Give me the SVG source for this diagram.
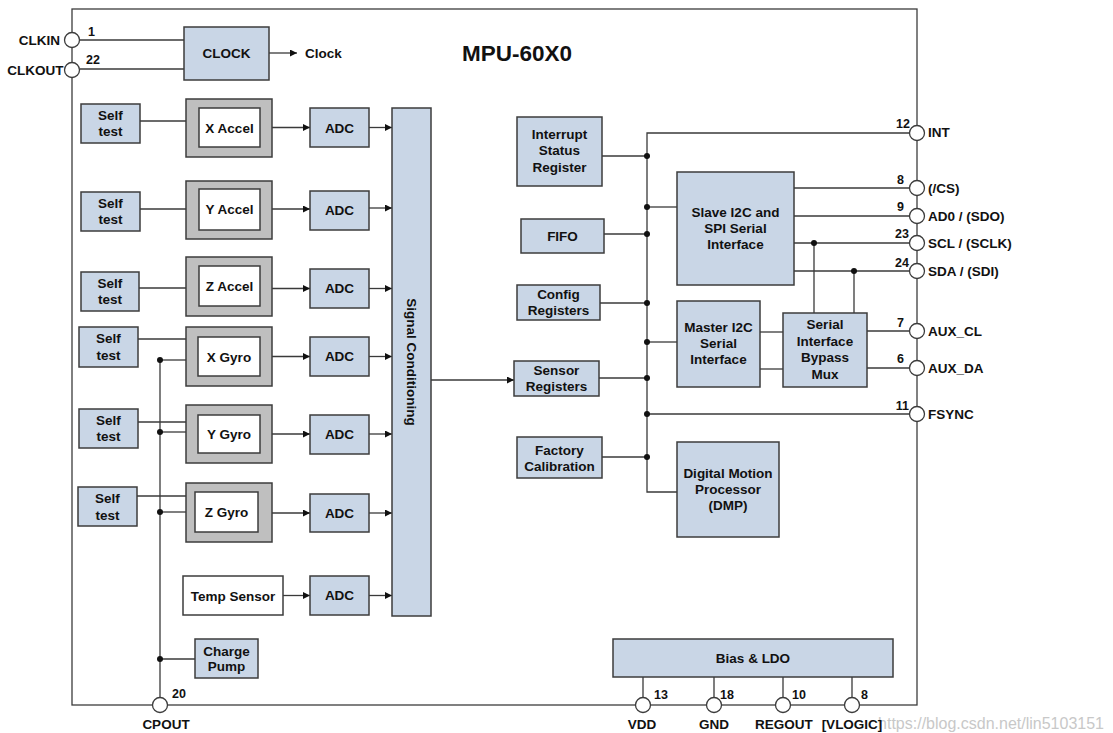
<svg xmlns="http://www.w3.org/2000/svg" width="1113" height="733" viewBox="0 0 1113 733">
<style>
text{font-family:"Liberation Sans",Arial,sans-serif;font-weight:bold;font-size:13.5px;fill:#111;text-anchor:middle}
.b{fill:#c9d6e6;stroke:#3c3c3c;stroke-width:1.5}
.w{fill:#fff;stroke:#3c3c3c;stroke-width:1.5}
.g{fill:#bfbfbf;stroke:#3c3c3c;stroke-width:1.5}
.pin{fill:#fff;stroke:#3c3c3c;stroke-width:1.3}
.c line,.c polyline{stroke:#3a3a3a;stroke-width:1.3;fill:none}
.a{marker-end:url(#arr)}
.dot{fill:#111}
.n{font-size:12.5px}
.l{text-anchor:start}
.r{text-anchor:end}
.wm{font-weight:normal;font-size:16px;fill:#c8c8c8;text-anchor:end}
</style>
<defs>
<marker id="arr" viewBox="0 0 10 10" refX="10" refY="5" markerWidth="9" markerHeight="7" markerUnits="userSpaceOnUse" orient="auto">
<path d="M0,0 L10,5 L0,10 z" fill="#111"/>
</marker>
</defs>
<rect width="1113" height="733" fill="#fff"/>
<g id="chip">
<rect x="72" y="9" width="845" height="696" fill="#fff" stroke="#3c3c3c" stroke-width="1.3"/>
<text x="517" y="61" style="font-size:22.5px">MPU-60X0</text>
</g>
<text class="wm" x="1104" y="729">https://blog.csdn.net/lin5103151</text>

<g id="connectors" class="c">
<line x1="80" y1="40" x2="184" y2="40"/>
<line x1="80" y1="69" x2="184" y2="69"/>
<line class="a" x1="269" y1="53" x2="297" y2="53"/>
<line x1="140" y1="121" x2="186" y2="121"/>
<line x1="140" y1="209" x2="186" y2="209"/>
<line x1="139" y1="288" x2="186" y2="288"/>
<line x1="138" y1="339" x2="186" y2="339"/>
<line x1="138" y1="422" x2="186" y2="422"/>
<line x1="137" y1="496" x2="186" y2="496"/>
<line class="a" x1="272" y1="127.5" x2="310" y2="127.5"/>
<line class="a" x1="272" y1="209" x2="310" y2="209"/>
<line class="a" x1="272" y1="288.5" x2="310" y2="288.5"/>
<line class="a" x1="272" y1="356.5" x2="310" y2="356.5"/>
<line class="a" x1="272" y1="434" x2="310" y2="434"/>
<line class="a" x1="272" y1="513" x2="310" y2="513"/>
<line class="a" x1="283" y1="595.5" x2="310" y2="595.5"/>
<line class="a" x1="369" y1="127.5" x2="392" y2="127.5"/>
<line class="a" x1="369" y1="208" x2="392" y2="208"/>
<line class="a" x1="369" y1="288.5" x2="392" y2="288.5"/>
<line class="a" x1="369" y1="356.5" x2="392" y2="356.5"/>
<line class="a" x1="369" y1="434" x2="392" y2="434"/>
<line class="a" x1="369" y1="513" x2="392" y2="513"/>
<line class="a" x1="369" y1="595.5" x2="392" y2="595.5"/>
<line x1="160" y1="360" x2="160" y2="697.5"/>
<line x1="160" y1="360" x2="186" y2="360"/>
<line x1="160" y1="432" x2="186" y2="432"/>
<line x1="160" y1="512" x2="186" y2="512"/>
<line x1="160" y1="659" x2="195" y2="659"/>
<line class="a" x1="431" y1="380" x2="514" y2="380"/>
<polyline points="909.5,133 647,133 647,492 677,492"/>
<line x1="602" y1="156" x2="647" y2="156"/>
<line x1="647" y1="207" x2="677" y2="207"/>
<line x1="604" y1="234" x2="647" y2="234"/>
<line x1="600" y1="303" x2="647" y2="303"/>
<line x1="647" y1="342" x2="677" y2="342"/>
<line x1="599" y1="378" x2="647" y2="378"/>
<line x1="647" y1="414" x2="909.5" y2="414"/>
<line x1="602" y1="457" x2="647" y2="457"/>
<line x1="794" y1="188" x2="909.5" y2="188"/>
<line x1="794" y1="216" x2="909.5" y2="216"/>
<line x1="794" y1="243" x2="909.5" y2="243"/>
<line x1="794" y1="271" x2="909.5" y2="271"/>
<line x1="814" y1="243" x2="814" y2="313"/>
<line x1="854" y1="271" x2="854" y2="313"/>
<line x1="760" y1="332" x2="783" y2="332"/>
<line x1="760" y1="369" x2="783" y2="369"/>
<line x1="867" y1="331" x2="909.5" y2="331"/>
<line x1="867" y1="368" x2="909.5" y2="368"/>
<line x1="643" y1="677" x2="643" y2="697.5"/>
<line x1="714" y1="677" x2="714" y2="697.5"/>
<line x1="783" y1="677" x2="783" y2="697.5"/>
<line x1="852" y1="677" x2="852" y2="697.5"/>
<circle class="dot" cx="160" cy="360" r="3"/>
<circle class="dot" cx="160" cy="432" r="3"/>
<circle class="dot" cx="160" cy="512" r="3"/>
<circle class="dot" cx="160" cy="659" r="3"/>
<circle class="dot" cx="647" cy="156" r="3"/>
<circle class="dot" cx="647" cy="207" r="3"/>
<circle class="dot" cx="647" cy="234" r="3"/>
<circle class="dot" cx="647" cy="303" r="3"/>
<circle class="dot" cx="647" cy="342" r="3"/>
<circle class="dot" cx="647" cy="378" r="3"/>
<circle class="dot" cx="647" cy="414" r="3"/>
<circle class="dot" cx="647" cy="457" r="3"/>
<circle class="dot" cx="814" cy="243" r="3"/>
<circle class="dot" cx="854" cy="271" r="3"/>
</g>

<g id="pin-clkin"><circle class="pin" cx="72" cy="40" r="7.5"/><text class="r" x="60" y="45">CLKIN</text><text class="l n" x="88" y="36">1</text></g>
<g id="pin-clkout"><circle class="pin" cx="72" cy="70" r="7.5"/><text class="r" x="63.5" y="75">CLKOUT</text><text class="l n" x="86" y="64">22</text></g>
<g id="pin-int"><circle class="pin" cx="917" cy="133" r="7.5"/><text class="l" x="928" y="137">INT</text><text class="r n" x="910" y="128">12</text></g>
<g id="pin-cs"><circle class="pin" cx="917" cy="188" r="7.5"/><text class="l" x="928" y="192.5">(/CS)</text><text class="r n" x="904" y="184">8</text></g>
<g id="pin-ad0"><circle class="pin" cx="917" cy="216" r="7.5"/><text class="l" x="928" y="220.5">AD0 / (SDO)</text><text class="r n" x="904" y="211">9</text></g>
<g id="pin-scl"><circle class="pin" cx="917" cy="243" r="7.5"/><text class="l" x="928" y="247.5">SCL / (SCLK)</text><text class="r n" x="909" y="238">23</text></g>
<g id="pin-sda"><circle class="pin" cx="917" cy="271" r="7.5"/><text class="l" x="928" y="275.5">SDA / (SDI)</text><text class="r n" x="909" y="267">24</text></g>
<g id="pin-auxcl"><circle class="pin" cx="917" cy="331" r="7.5"/><text class="l" x="928" y="335.5">AUX_CL</text><text class="r n" x="904" y="327">7</text></g>
<g id="pin-auxda"><circle class="pin" cx="917" cy="368" r="7.5"/><text class="l" x="928" y="372.5">AUX_DA</text><text class="r n" x="904" y="363">6</text></g>
<g id="pin-fsync"><circle class="pin" cx="917" cy="414" r="7.5"/><text class="l" x="928" y="418.5">FSYNC</text><text class="r n" x="909" y="410">11</text></g>
<g id="pin-cpout"><circle class="pin" cx="160" cy="705" r="7.5"/><text x="166" y="729">CPOUT</text><text class="l n" x="172" y="698">20</text></g>
<g id="pin-vdd"><circle class="pin" cx="643" cy="705" r="7.5"/><text x="642" y="729">VDD</text><text class="l n" x="654" y="699">13</text></g>
<g id="pin-gnd"><circle class="pin" cx="714" cy="705" r="7.5"/><text x="714" y="729">GND</text><text class="l n" x="720" y="699">18</text></g>
<g id="pin-regout"><circle class="pin" cx="783" cy="705" r="7.5"/><text x="784" y="729">REGOUT</text><text class="l n" x="792" y="699">10</text></g>
<g id="pin-vlogic"><circle class="pin" cx="852" cy="705" r="7.5"/><text x="852" y="729">[VLOGIC]</text><text class="l n" x="861" y="699">8</text></g>

<g id="clock"><rect class="b" x="184" y="27" width="85" height="53"/><text x="226.5" y="58">CLOCK</text></g>
<g id="clock-out"><text class="l" x="305" y="58">Clock</text></g>

<g id="selftest-xa"><rect class="b" x="81" y="104" width="59" height="39"/><text x="110.5" y="119.5">Self</text><text x="110.5" y="136">test</text></g>
<g id="selftest-ya"><rect class="b" x="81" y="192" width="59" height="39"/><text x="110.5" y="207.5">Self</text><text x="110.5" y="224">test</text></g>
<g id="selftest-za"><rect class="b" x="81" y="272" width="58" height="39"/><text x="110" y="288">Self</text><text x="110" y="304">test</text></g>
<g id="selftest-xg"><rect class="b" x="79" y="327" width="59" height="40"/><text x="108.5" y="343">Self</text><text x="108.5" y="360">test</text></g>
<g id="selftest-yg"><rect class="b" x="79" y="409" width="59" height="39"/><text x="108.5" y="424.5">Self</text><text x="108.5" y="441">test</text></g>
<g id="selftest-zg"><rect class="b" x="78" y="487" width="59" height="39"/><text x="107.5" y="503">Self</text><text x="107.5" y="519.5">test</text></g>

<g id="x-accel"><rect class="g" x="186" y="99" width="86" height="58"/><rect class="w" x="199" y="108" width="61" height="39"/><text x="229.5" y="132.5">X Accel</text></g>
<g id="y-accel"><rect class="g" x="186" y="181" width="86" height="58"/><rect class="w" x="199" y="189" width="61" height="41"/><text x="229.5" y="213.5">Y Accel</text></g>
<g id="z-accel"><rect class="g" x="186" y="257" width="86" height="59"/><rect class="w" x="199" y="266" width="61" height="40"/><text x="229.5" y="290.5">Z Accel</text></g>
<g id="x-gyro"><rect class="g" x="186" y="327" width="86" height="59"/><rect class="w" x="198" y="337" width="62" height="39"/><text x="229" y="361.5">X Gyro</text></g>
<g id="y-gyro"><rect class="g" x="186" y="405" width="86" height="58"/><rect class="w" x="198" y="415" width="62" height="38"/><text x="229" y="439">Y Gyro</text></g>
<g id="z-gyro"><rect class="g" x="186" y="483" width="86" height="59"/><rect class="w" x="195" y="492" width="63" height="40"/><text x="226.5" y="517">Z Gyro</text></g>
<g id="temp-sensor"><rect class="w" x="183" y="576" width="100" height="39"/><text x="233" y="600.5">Temp Sensor</text></g>
<g id="charge-pump"><rect class="b" x="195" y="639" width="63" height="39"/><text x="226.5" y="655.5">Charge</text><text x="226.5" y="671">Pump</text></g>

<g id="adc-1"><rect class="b" x="310" y="108" width="59" height="39"/><text x="339.5" y="132.5">ADC</text></g>
<g id="adc-2"><rect class="b" x="310" y="191" width="59" height="39"/><text x="339.5" y="215">ADC</text></g>
<g id="adc-3"><rect class="b" x="310" y="269" width="59" height="39"/><text x="339.5" y="293">ADC</text></g>
<g id="adc-4"><rect class="b" x="310" y="337" width="59" height="39"/><text x="339.5" y="361">ADC</text></g>
<g id="adc-5"><rect class="b" x="310" y="415" width="59" height="39"/><text x="339.5" y="439">ADC</text></g>
<g id="adc-6"><rect class="b" x="310" y="494" width="59" height="38"/><text x="339.5" y="517.5">ADC</text></g>
<g id="adc-7"><rect class="b" x="310" y="576" width="59" height="39"/><text x="339.5" y="600">ADC</text></g>

<g id="signal-conditioning"><rect class="b" x="392" y="108" width="39" height="508"/><text transform="translate(406.5,362) rotate(90)">Signal Conditioning</text></g>

<g id="interrupt-status"><rect class="b" x="517" y="117" width="85" height="69"/><text x="559.5" y="139">Interrupt</text><text x="559.5" y="155">Status</text><text x="559.5" y="171.5">Register</text></g>
<g id="fifo"><rect class="b" x="521" y="219" width="83" height="34"/><text x="562.5" y="240.5">FIFO</text></g>
<g id="config-registers"><rect class="b" x="517" y="285" width="83" height="35"/><text x="558.5" y="298.5">Config</text><text x="558.5" y="314.5">Registers</text></g>
<g id="sensor-registers"><rect class="b" x="514" y="361" width="85" height="35"/><text x="556.5" y="375">Sensor</text><text x="556.5" y="391">Registers</text></g>
<g id="factory-calibration"><rect class="b" x="517" y="437" width="85" height="41"/><text x="559.5" y="454.5">Factory</text><text x="559.5" y="470.5">Calibration</text></g>

<g id="slave-i2c"><rect class="b" x="677" y="172" width="117" height="113"/><text x="735.5" y="217">Slave I2C and</text><text x="735.5" y="233">SPI Serial</text><text x="735.5" y="249">Interface</text></g>
<g id="master-i2c"><rect class="b" x="677" y="301" width="83" height="86"/><text x="718.5" y="332">Master I2C</text><text x="718.5" y="348">Serial</text><text x="718.5" y="364">Interface</text></g>
<g id="bypass-mux"><rect class="b" x="783" y="313" width="84" height="74"/><text x="825" y="329">Serial</text><text x="825" y="346">Interface</text><text x="825" y="362">Bypass</text><text x="825" y="379">Mux</text></g>
<g id="dmp"><rect class="b" x="677" y="442" width="102" height="95"/><text x="728" y="478">Digital Motion</text><text x="728" y="494">Processor</text><text x="728" y="510">(DMP)</text></g>
<g id="bias-ldo"><rect class="b" x="613" y="639" width="280" height="38"/><text x="753" y="663">Bias &amp; LDO</text></g>
</svg>
